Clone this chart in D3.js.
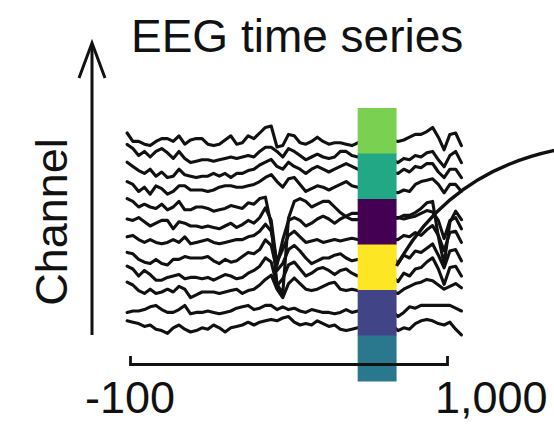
<!DOCTYPE html>
<html>
<head>
<meta charset="utf-8">
<script src="https://cdn.jsdelivr.net/npm/d3@7/dist/d3.min.js"></script>
<style>
  html, body { margin: 0; padding: 0; background: #fff; }
  svg { display: block; }
  text { font-family: "Liberation Sans", Arial, Helvetica, sans-serif; fill: #111; }
</style>
</head>
<body>
<script>
// Sample grid of the epoch (ms), one sample every 20 ms
const sampleStart = -110;
const sampleStep = 20;
const sampleCount = 59;

// Displayed time span and its end labels
const timeSpan = [-100, 1000];
const timeLabels = ["-100", "1,000"];

// Highlighted analysis window (ms) and its per-channel-group weights (0..1)
const windowSpan = [690, 825];
const windowWeights = [0.8, 0.6, 0.0, 1.0, 0.2, 0.4];

// Vertical stacking position of each channel
const channelOffset = [190, 173, 158, 140, 123, 104, 89, 72, 54, 38, 19, 5];

// Channel recordings (µV, relative to each channel's resting level)
const ch1  = [5,-1,-1,-3,-4,-1,1,1,-1,3, -3,0,1,1,-3,-4,-3,0,3,-3, -2,3,1,5,9,10,-5,-4,4,3, -2,-3,-1,2,-1,-3,-2,-2,-3,-4, -2,-1,0,-1,0,1,0, -1,0,2,4,4,6,9,2,-7,4,5,-4];
const ch2  = [9,6,1,4,0,4,6,3,-1,4, -1,-4,-3,-2,-2,-3,-2,-1,0,-1, 0,1,0,4,7,7,4,0,6,4, 1,-2,0,2,0,-1,0,4,4,1, 0,1,0,-1,0,-1,-2, -4,-1,-2,1,0,3,4,-2,-7,1,4,-4];
const ch3  = [7,4,1,-1,2,-3,0,-4,-3,2, -2,-3,-4,-3,-3,-1,-3,-1,-4,-1, -1,1,2,5,7,9,4,2,7,4, 2,-1,2,4,2,0,2,4,6,4, 2,1,0,1,2,1,0, -1,2,0,4,3,6,6,0,-4,2,2,-4];
const ch4  = [6,4,-1,2,-3,3,1,-3,-1,3, 3,0,0,0,-1,0,2,3,3,2, 2,3,4,6,9,11,6,2,8,9, 4,-1,1,3,2,0,2,4,6,3, 2,1,2,0,1,0,-1, -2,0,-1,4,6,7,8,4,-2,4,4,-1];
const ch5  = [6,4,0,2,0,-1,2,-2,0,4, -2,-2,0,0,-1,-3,-2,-1,1,0, -1,3,2,6,7,-13,-55,-62,-8,4, 6,4,0,2,4,4,0,-4,-7,-9, -9,-7,-6,-6,-6,-7,-8, -8,-6,-6,-4,-1,3,4,-21,-41,-11,-3,-9];
const ch6  = [5,4,6,3,0,2,4,4,-2,3, 2,0,0,-1,0,-1,-2,0,2,-1, 1,4,2,6,13,4,-28,-10,4,6, 4,0,2,5,7,5,2,5,7,9, 9,8,7,7,6,6,6, 6,5,6,7,9,11,10,4,-9,4,6,-2];
const ch7  = [3,4,1,-1,1,-1,-2,-1,1,-1, 3,-2,-1,0,1,-1,-2,-1,0,1, 1,3,4,7,12,7,-15,-6,4,7, 3,-1,0,1,-1,0,1,0,1,2, 1,0,1,2,1,0,1, 1,4,3,6,4,8,11,4,-7,6,7,-1];
const ch8  = [4,3,-1,-3,-4,-1,-4,-5,-1,-1, 1,0,0,0,1,-2,-4,-1,-3,-2, 1,4,3,6,13,9,-9,-4,6,9, 5,0,-4,-2,0,0,2,3,0,-2, -1,0,1,0,-1,0,1, -4,2,0,5,4,7,10,2,-7,5,6,-2];
const ch9  = [7,5,0,4,1,-3,-3,-1,0,1, -2,-1,-1,-2,-1,-3,-1,1,0,-2, -1,2,4,7,13,10,-7,-2,8,10, 5,0,2,5,6,4,1,4,5,2, 0,1,2,1,0,-1,0, -4,2,0,5,6,10,13,5,-6,6,7,0];
const ch10 = [7,5,1,-1,2,-1,0,2,0,4, 2,-4,-2,0,0,0,-1,0,1,2, -1,1,2,5,9,12,2,-4,6,10, 6,2,1,2,4,6,7,2,1,2, 1,0,1,2,1,0,0, -1,2,4,6,7,9,8,5,2,4,6,3];
const ch11 = [-1,0,0,1,3,4,1,-1,-1,1, 4,-2,-1,-1,0,-1,-2,-1,0,2, 3,4,1,2,4,4,1,3,1,2, 0,-1,1,0,-1,-1,-2,-1,1,-1, 0,1,0,-1,0,1,0, -4,-1,3,2,4,4,4,4,4,4,2,0];
const ch12 = [3,2,1,-1,0,-3,-4,-6,-2,0, -3,-5,-4,-2,-3,0,-2,-5,-2,-1, 0,2,0,2,3,4,3,5,6,2, 0,1,0,3,1,-1,0,-3,-4,-3, -2,-1,0,-1,-2,-1,0, -4,-2,-3,1,3,4,3,1,0,2,-3,-7];

const channels = [ch1, ch2, ch3, ch4, ch5, ch6, ch7, ch8, ch9, ch10, ch11, ch12];
const times = d3.range(sampleCount).map(i => sampleStart + i * sampleStep);

const W = 554, H = 430;
const svg = d3.select("body").append("svg")
  .attr("width", W).attr("height", H)
  .attr("viewBox", `0 0 ${W} ${H}`);

const x = d3.scaleLinear().domain(timeSpan).range([130, 447]);
// channel stacking position and signal amplitude
const y = d3.scaleLinear().domain([0, 200]).range([330, 130]);
const amp = d3.scaleLinear().domain([0, 10]).range([0, -14]);

// Title
svg.append("text")
  .attr("x", 131).attr("y", 52)
  .style("font-size", "46px")
  .text("EEG time series");

// Channel axis: upward arrow with label
const arrowX = 92;
svg.append("line")
  .attr("x1", arrowX).attr("x2", arrowX)
  .attr("y1", 335).attr("y2", 44)
  .attr("stroke", "#111").attr("stroke-width", 3);
svg.append("path")
  .attr("d", `M${arrowX - 13},78 L${arrowX},43 L${arrowX + 13},78`)
  .attr("fill", "none").attr("stroke", "#111")
  .attr("stroke-width", 3).attr("stroke-linejoin", "miter");
svg.append("text")
  .attr("transform", "translate(67,222) rotate(-90)")
  .attr("text-anchor", "middle")
  .style("font-size", "45px")
  .text("Channel");

// Stacked channel traces
const line = d3.line()
  .x((d, i) => x(times[i]))
  .y(d => d);

svg.append("g")
  .selectAll("path")
  .data(channels)
  .join("path")
  .attr("d", (vals, c) => line(vals.map(v => y(channelOffset[c]) + amp(v))))
  .attr("fill", "none")
  .attr("stroke", "#111")
  .attr("stroke-width", 3.1)
  .attr("stroke-linejoin", "round")
  .attr("stroke-linecap", "round");

// Highlighted window: one cell per channel group, coloured by weight
const band = d3.scaleBand()
  .domain(d3.range(windowWeights.length))
  .range([108, 381]);
svg.append("g")
  .selectAll("rect")
  .data(windowWeights)
  .join("rect")
  .attr("x", x(windowSpan[0]))
  .attr("width", x(windowSpan[1]) - x(windowSpan[0]))
  .attr("y", (d, i) => band(i))
  .attr("height", band.bandwidth() + 0.5)
  .attr("fill", d => d3.interpolateViridis(d));

// Connector leaving the window towards the right
const cx0 = x(windowSpan[1]);
const conn = d3.path();
conn.moveTo(cx0, 266);
conn.quadraticCurveTo(cx0 + 53, 170, cx0 + 165, 149);
svg.append("path")
  .attr("d", conn.toString())
  .attr("fill", "none")
  .attr("stroke", "#111")
  .attr("stroke-width", 3.3);

// Time scale bar
const axisG = svg.append("g")
  .attr("transform", "translate(0,364)")
  .call(d3.axisTop(x).tickValues([]).tickSizeOuter(8));
axisG.select(".domain")
  .attr("stroke", "#111").attr("stroke-width", 2.8);

svg.append("text")
  .attr("x", x(timeSpan[0])).attr("y", 413)
  .attr("text-anchor", "middle")
  .style("font-size", "45px")
  .text(timeLabels[0]);
svg.append("text")
  .attr("x", x(timeSpan[1]) - 12).attr("y", 413)
  .attr("text-anchor", "start")
  .style("font-size", "45px")
  .text(timeLabels[1]);
</script>
</body>
</html>
